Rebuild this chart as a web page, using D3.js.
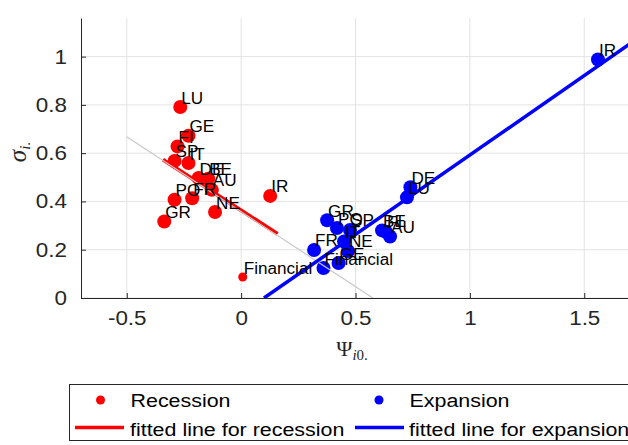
<!DOCTYPE html>
<html><head><meta charset="utf-8">
<script src="https://cdn.jsdelivr.net/npm/d3@7"></script>
<style>body{margin:0;background:#fff}svg{display:block}</style>
</head><body><svg id="c" width="628" height="445"></svg>
<script>
// ---- data ----
const countries = ["LU","GE","FI","SP","IT","DE","BE","AU","FR","PO","NE","GR","IR","Financial"];
const recessionX = [-0.266,-0.230,-0.278,-0.291,-0.230,-0.186,-0.144,-0.128,-0.214,-0.291,-0.114,-0.336,0.127,0.007];
const recessionY = [0.791,0.672,0.628,0.568,0.559,0.497,0.494,0.448,0.413,0.407,0.356,0.317,0.423,0.087];
const expansionX = [0.725,0.426,0.633,0.476,0.450,0.740,0.616,0.651,0.319,0.419,0.467,0.376,1.560,0.360];
const expansionY = [0.417,0.145,0.274,0.282,0.234,0.459,0.280,0.255,0.199,0.290,0.195,0.322,0.988,0.124];
const recessionFit = [[-0.342,0.573],[0.159,0.266]];
const expansionFit = [[0.100,0.000],[1.750,1.086]];
const referenceLine = [[-0.500,0.668],[0.576,0.000]];
const xTicks = [-0.5,0,0.5,1,1.5];
const yTicks = [0,0.2,0.4,0.6,0.8,1];
const xTickLabels = ["-0.5","0","0.5","1","1.5"];
const yTickLabels = ["0","0.2","0.4","0.6","0.8","1"];
const xDomain = [-0.7,1.7];
const yDomain = [0,1.16];

// ---- layout ----
const svg = d3.select("#c");
const L = 81, R = 630, T = 18, B = 298;
const x = d3.scaleLinear().domain(xDomain).range([L,R]);
const y = d3.scaleLinear().domain(yDomain).range([B,T]);
const sans = "'Liberation Sans', Arial, Helvetica, sans-serif";
const serif = "'Liberation Serif', 'Times New Roman', serif";
const axisColor = "#262626";

function stretch(sel, k){
  sel.each(function(){
    const w = this.getComputedTextLength();
    this.setAttribute("textLength", w*k);
    this.setAttribute("lengthAdjust","spacingAndGlyphs");
  });
}

svg.append("defs").append("clipPath").attr("id","clip")
  .append("rect").attr("x",L).attr("y",T).attr("width",R-L).attr("height",B-T);

// grid
const grid = svg.append("g");
grid.selectAll(".gx").data(xTicks).join("line")
  .attr("x1",d=>x(d)).attr("x2",d=>x(d)).attr("y1",T).attr("y2",B)
  .attr("stroke","#e3e3e3").attr("stroke-width",1);
grid.selectAll(".gy").data(yTicks).join("line")
  .attr("x1",L).attr("x2",R).attr("y1",d=>y(d)).attr("y2",d=>y(d))
  .attr("stroke","#e3e3e3").attr("stroke-width",1);

// axes
const xAxis = svg.append("g").attr("transform",`translate(0,${B})`)
  .call(d3.axisBottom(x).tickValues(xTicks).tickSizeInner(-5).tickSizeOuter(0).tickPadding(13)
    .tickFormat((d,i)=>xTickLabels[i]));
const yAxis = svg.append("g").attr("transform",`translate(${L},0)`)
  .call(d3.axisLeft(y).tickValues(yTicks).tickSizeInner(-5).tickSizeOuter(0).tickPadding(14)
    .tickFormat((d,i)=>yTickLabels[i]));
[xAxis,yAxis].forEach(a=>{
  a.select(".domain").attr("stroke",axisColor);
  a.selectAll(".tick line").attr("stroke",axisColor);
  a.selectAll(".tick text").attr("fill",axisColor).attr("font-family",sans).attr("font-size",20);
});
xAxis.selectAll(".tick text").attr("dy","0.71em").attr("y",13);
stretch(xAxis.selectAll(".tick text"),1.12);
stretch(yAxis.selectAll(".tick text"),1.12);

// axis labels
const yl = svg.append("text").attr("transform","translate(26,152) rotate(-90)")
  .attr("text-anchor","middle").attr("font-family",serif).attr("fill",axisColor);
yl.append("tspan").attr("font-size",25).attr("font-style","italic").text("σ");
yl.append("tspan").attr("font-size",15).attr("font-style","italic").attr("dy",4).text("i");
yl.append("tspan").attr("font-size",15).text(".");

const xl = svg.append("text").attr("x",352).attr("y",356)
  .attr("text-anchor","middle").attr("font-family",serif).attr("fill",axisColor);
xl.append("tspan").attr("font-size",22).text("Ψ");
xl.append("tspan").attr("font-size",15).attr("font-style","italic").attr("dy",4).text("i");
xl.append("tspan").attr("font-size",15).text("0.");

// plot content
const plot = svg.append("g").attr("clip-path","url(#clip)");
const line = d3.line().x(d=>x(d[0])).y(d=>y(d[1]));

const rec = countries.map((c,i)=>({c, x:recessionX[i], y:recessionY[i]}));
const exp = countries.map((c,i)=>({c, x:expansionX[i], y:expansionY[i]}));

plot.selectAll(".rp").data(rec).join("circle")
  .attr("cx",d=>x(d.x)).attr("cy",d=>y(d.y))
  .attr("r",d=>d.c==="Financial"?4.5:7).attr("fill","#ff0000");
plot.selectAll(".bp").data(exp).join("circle")
  .attr("cx",d=>x(d.x)).attr("cy",d=>y(d.y))
  .attr("r",7).attr("fill","#0000ff");

plot.append("path").attr("d",line(recessionFit)).attr("stroke","#ff0000").attr("stroke-width",3.8).attr("fill","none");
plot.append("path").attr("d",line(referenceLine)).attr("stroke","#c8c8c8").attr("stroke-width",1.2).attr("fill","none");
plot.append("path").attr("d",line(expansionFit)).attr("stroke","#0000ff").attr("stroke-width",3.5).attr("fill","none");

const labels = svg.append("g").attr("font-family",sans).attr("font-size",16).attr("fill","#000");
labels.selectAll(".rl").data(rec).join("text")
  .attr("x",d=>x(d.x)+1).attr("y",d=>y(d.y)-3.5).text(d=>d.c);
labels.selectAll(".bl").data(exp).join("text")
  .attr("x",d=>x(d.x)+1).attr("y",d=>y(d.y)-3.5).text(d=>d.c);
stretch(labels.selectAll("text"),1.07);

// legend
const lg = svg.append("g");
lg.append("rect").attr("x",69.5).attr("y",384.5).attr("width",600).attr("height",56)
  .attr("fill","#fff").attr("stroke",axisColor).attr("stroke-width",1);
const lgText = lg.append("g").attr("font-family",sans).attr("font-size",18).attr("fill","#000");
lg.append("circle").attr("cx",100.5).attr("cy",400).attr("r",4.5).attr("fill","#ff0000");
lg.append("circle").attr("cx",379).attr("cy",400).attr("r",4.5).attr("fill","#0000ff");
lg.append("line").attr("x1",75).attr("x2",124).attr("y1",427.5).attr("y2",427.5).attr("stroke","#ff0000").attr("stroke-width",3.5);
lg.append("line").attr("x1",355).attr("x2",404).attr("y1",427.5).attr("y2",427.5).attr("stroke","#0000ff").attr("stroke-width",3.5);
lgText.append("text").attr("x",130.5).attr("y",406.5).text("Recession");
lgText.append("text").attr("x",409.5).attr("y",406.5).text("Expansion");
lgText.append("text").attr("x",130).attr("y",435.5).text("fitted line for recession");
lgText.append("text").attr("x",409).attr("y",435.5).text("fitted line for expansion");
stretch(lgText.selectAll("text"),1.19);
</script></body></html>
